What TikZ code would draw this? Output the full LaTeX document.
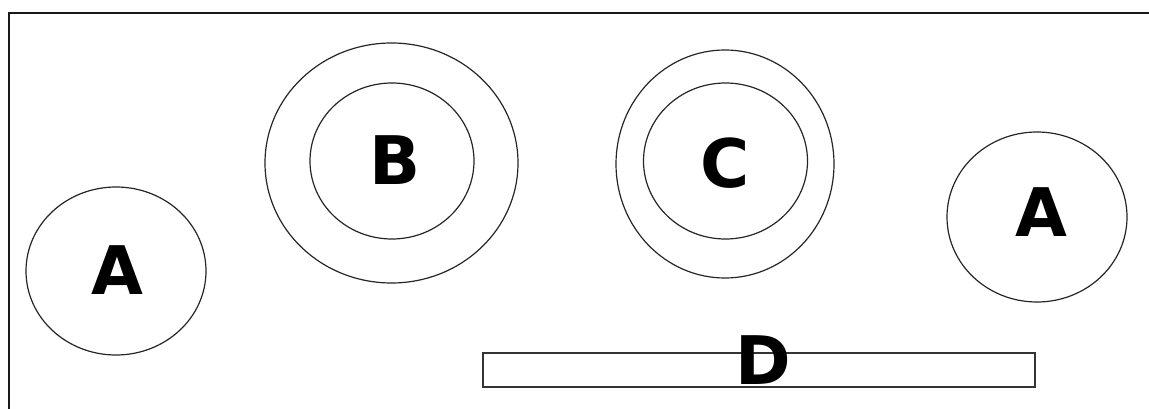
\documentclass[tikz,border=0pt]{standalone}
\usepackage{fontspec}
\newfontfamily\lblfont{DejaVu Sans}
\usetikzlibrary{shapes.geometric}
\tikzset{
  ring/.style={draw=black!85, line width=1.2pt, ellipse, inner sep=0pt},
  lbl/.style={font=\lblfont\bfseries\fontsize{67}{67}\selectfont, inner sep=0pt},
  bar/.style={draw=black!80, line width=1.2pt, rectangle, inner sep=0pt, minimum width=552pt, minimum height=34pt}
}
\begin{document}
\begin{tikzpicture}[x=1pt,y=-1pt]
\useasboundingbox (0,0) rectangle (1149,409);
\fill[white] (0,0) rectangle (1149,409);
% frame
\draw[line width=2pt, black!90] (9,412) -- (9,13) -- (1152,13);
% left A
\node[ring, minimum width=180pt, minimum height=168pt] (a1) at (116,271) {};
\node[lbl] (ta1) at (117,270) {A};
% B
\node[ring, minimum width=253pt, minimum height=240pt] (bo) at (391.5,163) {};
\node[ring, minimum width=164pt, minimum height=156pt] (bi) at (392,161) {};
\node[lbl] (tb) at (395,160.5) {B};
% C
\node[ring, minimum width=218pt, minimum height=228pt] (co) at (725,164) {};
\node[ring, minimum width=164pt, minimum height=156pt] (ci) at (725.5,161) {};
\node[lbl] (tc) at (725,163.5) {C};
% right A
\node[ring, minimum width=180pt, minimum height=170pt] (a2) at (1037,217) {};
\node[lbl] (ta2) at (1041,212.5) {A};
% D
\node[bar] (d) at (759,370) {};
\node[lbl] (td) at (763,360) {D};
\end{tikzpicture}
\end{document}
